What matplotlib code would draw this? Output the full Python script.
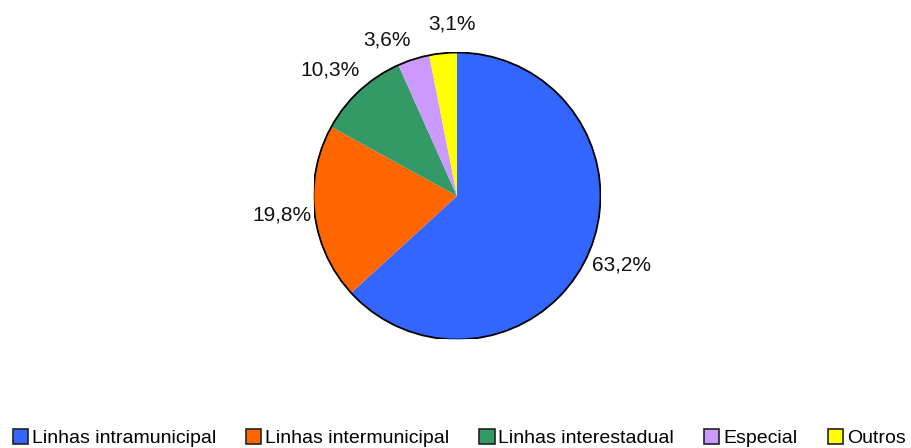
import numpy as np
import matplotlib.pyplot as plt
from matplotlib.patches import Circle

categories = ['Linhas intramunicipal', 'Linhas intermunicipal', 'Linhas interestadual', 'Especial', 'Outros']
shares = [63.2, 19.8, 10.3, 3.6, 3.1]
colors = ['#3366FF', '#FF6600', '#339966', '#CC99FF', '#FFFF00']

plt.rcParams['font.family'] = ['Liberation Sans', 'DejaVu Sans']

fig = plt.figure(figsize=(9.11, 4.48), dpi=100)
r_px = 143.5
cx, cy = 457, 196
ax = fig.add_axes([(cx - r_px) / 911, 1 - (cy + r_px) / 448, 2 * r_px / 911, 2 * r_px / 448])

wedges, texts = ax.pie(shares, colors=colors, startangle=90, counterclock=False,
                       radius=1, wedgeprops=dict(linewidth=0))
ax.add_patch(Circle((0, 0), 1, fill=False, edgecolor='black', linewidth=1.3))

# small labels are pushed apart so they don't collide
label_shift = [1.2, -0.5, 2.5, 6.7, -3.9]
label_dist = [1.245, 1.23, 1.25, 1.19, 1.2]
for w, s, sh, d in zip(wedges, shares, label_shift, label_dist):
    ang = np.deg2rad((w.theta1 + w.theta2) / 2 + sh)
    ax.text(d * np.cos(ang), d * np.sin(ang), f'{s:.1f}%'.replace('.', ','),
            ha='center', va='center', fontsize=15, color='#111111')

ax.set_xlim(-1, 1)
ax.set_ylim(-1, 1)
ax.set_aspect('equal')
ax.axis('off')

leg = fig.legend(wedges, categories, loc='center', bbox_to_anchor=(459 / 911, 1 - 438 / 448),
                 ncol=5, frameon=False, handlelength=0.78, handleheight=0.78,
                 handletextpad=0.2, columnspacing=1.55, borderpad=0.1,
                 prop=dict(size=14))
for h in leg.legend_handles:
    h.set_edgecolor('#222222')
    h.set_linewidth(1.2)

fig.savefig('out.png', dpi=100)
